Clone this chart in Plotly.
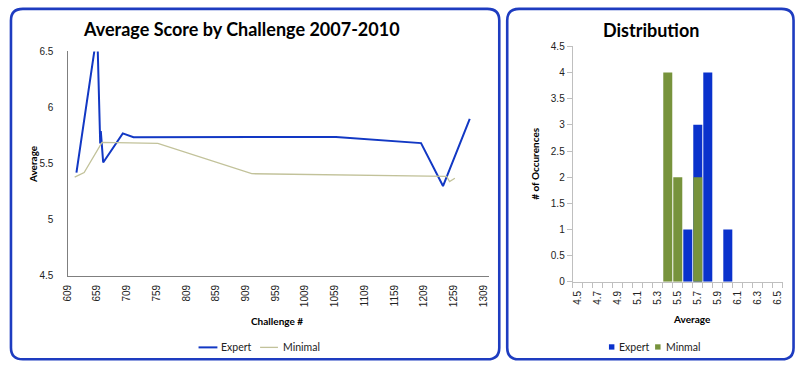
import plotly.graph_objects as go

# ---------------- data ----------------
challenge_expert = [624, 659, 664, 665, 669, 702, 720, 1061, 1204, 1241, 1286]
avg_expert = [5.42, 6.68, 5.68, 5.79, 5.51, 5.77, 5.735, 5.738, 5.683, 5.30, 5.90]

challenge_minimal = [621, 637, 667, 761, 919, 1247, 1252, 1261]
avg_minimal = [5.38, 5.42, 5.69, 5.68, 5.41, 5.387, 5.34, 5.37]

challenge_ticks = [609, 659, 709, 759, 809, 859, 909, 959, 1009, 1059,
                   1109, 1159, 1209, 1259, 1309]

hist_bins = [4.5, 4.6, 4.7, 4.8, 4.9, 5.0, 5.1, 5.2, 5.3, 5.4, 5.5,
             5.6, 5.7, 5.8, 5.9, 6.0, 6.1, 6.2, 6.3, 6.4, 6.5]
count_expert = [0, 0, 0, 0, 0, 0, 0, 0, 0, 0, 0,
                1, 3, 4, 0, 1, 0, 0, 0, 0, 0]
count_minimal = [0, 0, 0, 0, 0, 0, 0, 0, 0, 4, 2,
                 0, 2, 0, 0, 0, 0, 0, 0, 0, 0]
hist_ticks = [4.5, 4.7, 4.9, 5.1, 5.3, 5.5, 5.7, 5.9, 6.1, 6.3, 6.5]

# ---------------- styling ----------------
W, H = 800, 374
BLUE = "#1238C4"
BAR_BLUE = "#0A32CC"
GREEN_LINE = "#C2C29A"
GREEN_BAR = "#77933C"
BORDER = "#1E3CC0"
TITLE_FONT = "Lato"
TICK_FONT = "Liberation Sans"


def px(x):
    return x / W


def py(y):
    return 1 - y / H


fig = go.Figure()

fig.add_trace(go.Scatter(x=challenge_expert, y=avg_expert, mode="lines",
                         line=dict(color=BLUE, width=2), name="Expert",
                         xaxis="x", yaxis="y", showlegend=False))
fig.add_trace(go.Scatter(x=challenge_minimal, y=avg_minimal, mode="lines",
                         line=dict(color=GREEN_LINE, width=1.3), name="Minimal",
                         xaxis="x", yaxis="y", showlegend=False))

fig.add_trace(go.Bar(x=hist_bins, y=count_expert, width=0.09, name="Expert",
                     marker=dict(color=BAR_BLUE, line=dict(width=0)),
                     xaxis="x2", yaxis="y2", showlegend=False))
fig.add_trace(go.Bar(x=hist_bins, y=count_minimal, width=0.09, name="Minmal",
                     marker=dict(color=GREEN_BAR, line=dict(width=0)),
                     xaxis="x2", yaxis="y2", showlegend=False))

tickfont = dict(family=TICK_FONT, size=10, color="#222222")

fig.update_layout(
    width=W, height=H,
    margin=dict(l=0, r=0, t=0, b=0),
    paper_bgcolor="white", plot_bgcolor="white",
    barmode="overlay",
    xaxis=dict(domain=[px(62), px(487)], range=[609, 1319],
               tickmode="array", tickvals=challenge_ticks,
               ticktext=[str(t) for t in challenge_ticks],
               tickangle=-90, ticks="", showgrid=False, zeroline=False,
               showline=True, linecolor="#7F7F7F", linewidth=1.3,
               tickfont=tickfont, anchor="y", ticklabelstandoff=4),
    yaxis=dict(domain=[py(278.7), py(47)], range=[4.5, 6.5],
               tickmode="array", tickvals=[4.5, 5, 5.5, 6, 6.5],
               ticktext=["4.5", "5", "5.5", "6", "6.5"],
               ticks="", showgrid=False, zeroline=False,
               showline=True, linecolor="#7F7F7F", linewidth=1.3,
               tickfont=tickfont, anchor="x", ticklabelstandoff=11),
    xaxis2=dict(domain=[px(571), px(782.7)], range=[4.45, 6.55],
                tickmode="array", tickvals=hist_ticks,
                ticktext=[f"{t:.1f}" for t in hist_ticks],
                tickangle=-90, ticks="", showgrid=False, zeroline=False,
                showline=True, linecolor="#BFBFBF", linewidth=1,
                minor=dict(ticks="outside", tick0=4.45, dtick=0.1,
                           ticklen=5, tickcolor="#BFBFBF", showgrid=False),
                tickfont=tickfont, anchor="y2", ticklabelstandoff=4),
    yaxis2=dict(domain=[py(285), py(41.7)], range=[0, 4.5],
                tickmode="array", tickvals=[0, 0.5, 1, 1.5, 2, 2.5, 3, 3.5, 4, 4.5],
                ticktext=["0", "0.5", "1", "1.5", "2", "2.5", "3", "3.5", "4", "4.5"],
                ticks="outside", ticklen=5, tickcolor="#BFBFBF",
                showgrid=False, zeroline=False,
                showline=True, linecolor="#BFBFBF", linewidth=1,
                tickfont=tickfont, anchor="x2"),
)


def rrect(x0, y0, x1, y1, r):
    def P(x, y):
        return f"{px(x):.5f},{py(y):.5f}"
    return (f"M {P(x0 + r, y0)} L {P(x1 - r, y0)} Q {P(x1, y0)} {P(x1, y0 + r)} "
            f"L {P(x1, y1 - r)} Q {P(x1, y1)} {P(x1 - r, y1)} "
            f"L {P(x0 + r, y1)} Q {P(x0, y1)} {P(x0, y1 - r)} "
            f"L {P(x0, y0 + r)} Q {P(x0, y0)} {P(x0 + r, y0)} Z")


shapes = [
    dict(type="path", xref="paper", yref="paper", path=rrect(5, 3, 497, 365, 12),
         line=dict(color=BORDER, width=2.6), layer="below"),
    dict(type="path", xref="paper", yref="paper", path=rrect(505, 3, 793.5, 365, 12),
         line=dict(color=BORDER, width=2.6), layer="below"),
    # legend samples (left)
    dict(type="line", xref="paper", yref="paper", x0=px(194), x1=px(213),
         y0=py(352.7), y1=py(352.7), line=dict(color=BLUE, width=2)),
    dict(type="line", xref="paper", yref="paper", x0=px(256), x1=px(274),
         y0=py(352.7), y1=py(352.7), line=dict(color=GREEN_LINE, width=1.3)),
    # legend samples (right)
    dict(type="rect", xref="paper", yref="paper", x0=px(607.5), x1=px(613),
         y0=py(355), y1=py(349.5), fillcolor=BAR_BLUE, line=dict(width=0)),
    dict(type="rect", xref="paper", yref="paper", x0=px(654), x1=px(659.5),
         y0=py(355), y1=py(349.5), fillcolor=GREEN_BAR, line=dict(width=0)),
]
fig.update_layout(shapes=shapes)

ann = []


def text(x, y, s, size, bold=False, angle=0, xanchor="center", color="black", family=TITLE_FONT):
    ann.append(dict(x=px(x), y=py(y), xref="paper", yref="paper", text=(f"<b>{s}</b>" if bold else s),
                    showarrow=False, xanchor=xanchor, yanchor="middle", textangle=angle,
                    font=dict(family=family, size=size, color=color)))


text(237, 24, "Average Score by Challenge 2007-2010", 18, bold=True)
text(650, 25, "Distribution", 18, bold=True)
text(26.5, 163, "Average", 10, bold=True, angle=-90)
text(273, 325.7, "Challenge #", 10, bold=True)
text(533, 163, "# of Occurences", 10, bold=True, angle=-90)
text(691, 323, "Average", 10, bold=True)
text(215, 352.7, "Expert", 10.5, xanchor="left", color="#222222")
text(277, 352.7, "Minimal", 10.5, xanchor="left", color="#222222")
text(616, 352.5, "Expert", 10.5, xanchor="left", color="#222222")
text(662.5, 352.5, "Minmal", 10.5, xanchor="left", color="#222222")
fig.update_layout(annotations=ann)

fig.write_html(
    "out.html",
    config={"displayModeBar": False},
    post_script="document.body.style.margin='0';document.body.style.overflow='hidden';",
)
